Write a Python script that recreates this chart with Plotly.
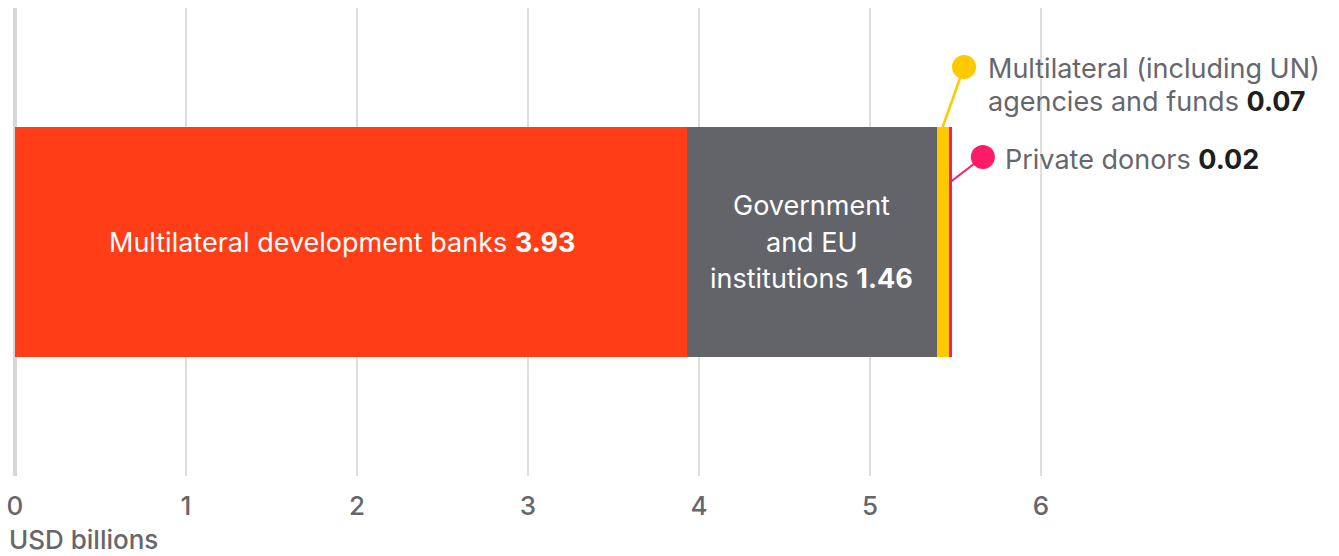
import plotly.graph_objects as go

# Funding by donor type, USD billions
categories = ["Multilateral development banks", "Government and EU institutions",
              "Multilateral (including UN) agencies and funds", "Private donors"]
values = [3.93, 1.46, 0.07, 0.02]
colors = ["#FF3D17", "#636469", "#FFC900", "#FF1C66"]
tick_vals = [0, 1, 2, 3, 4, 5, 6]
tick_text = ["0", "1", "2", "3", "4", "5", "6"]

FONT = "Inter"
SIZE = 27
GREY_TEXT = "#66666b"
DARK = "#1e1e1e"
BAR_W = 0.4915
PLOT_H = 468  # px height of the plotting area
PX = 1.0 / PLOT_H  # y-data units per pixel

fig = go.Figure()
for name, v, c in zip(categories, values, colors):
    fig.add_trace(go.Bar(
        x=[v], y=[0], orientation="h", name=name,
        marker=dict(color=c, line=dict(width=0)),
        width=BAR_W, hoverinfo="skip", showlegend=False,
    ))

# segment boundaries
starts = [sum(values[:i]) for i in range(len(values))]
mids = [s + v / 2 for s, v in zip(starts, values)]

annotations = []
# label inside the red segment
annotations.append(dict(
    x=mids[0], y=0, xref="x", yref="y", showarrow=False, xshift=-9,
    text=f"{categories[0]} <b>{values[0]:.2f}</b>",
    font=dict(family=FONT, size=SIZE, color="white"),
))
# three-line label inside the grey segment
grey_lines = ["Government", "and EU", f"institutions <b>{values[1]:.2f}</b>"]
for i, line in enumerate(grey_lines):
    annotations.append(dict(
        x=mids[1], y=0, xref="x", yref="y", showarrow=False,
        yshift=(1 - i) * 36.5,
        text=line, font=dict(family=FONT, size=SIZE, color="white"),
    ))

# callouts for the two thin segments: leader line from the bar to a dot, label beside it
# start_px: pixels below the bar top where the leader leaves the bar
# end_px: pixels below the bar top for the dot (negative = above the bar)
callouts = [
    dict(idx=2, dx=0.125, start_px=0, end_px=-60, lw=2.5, tshift=22,
         lines=["Multilateral (including UN)",
                f"agencies and funds <b style='color:{DARK}'>{values[2]:.2f}</b>"],
         line_y=[2, 35]),
    dict(idx=3, dx=0.19, start_px=55, end_px=30, lw=2, tshift=20,
         lines=[f"Private donors <b style='color:{DARK}'>{values[3]:.2f}</b>"],
         line_y=[3]),
]
top = BAR_W / 2
for co in callouts:
    i = co["idx"]
    x0 = mids[i]
    x1 = x0 + co["dx"]
    y0 = top - co["start_px"] * PX
    y1 = top - co["end_px"] * PX
    fig.add_trace(go.Scatter(
        x=[x0, x1], y=[y0, y1], mode="lines",
        line=dict(color=colors[i], width=co["lw"]),
        hoverinfo="skip", showlegend=False,
    ))
    fig.add_trace(go.Scatter(
        x=[x1], y=[y1], mode="markers",
        marker=dict(color=colors[i], size=24, line=dict(width=0)),
        hoverinfo="skip", showlegend=False,
    ))
    for text, dy in zip(co["lines"], co["line_y"]):
        annotations.append(dict(
            x=x1, y=y1, xref="x", yref="y", showarrow=False,
            xanchor="left", yanchor="middle", xshift=co["tshift"], yshift=-dy,
            align="left", text=text,
            font=dict(family=FONT, size=SIZE, color=GREY_TEXT),
        ))

annotations.append(dict(
    x=0, y=0, xref="paper", yref="paper", xanchor="left", yanchor="middle",
    xshift=2, yshift=-63, showarrow=False, text="USD billions",
    font=dict(family=FONT, size=26, color=GREY_TEXT, weight=500),
))

fig.update_layout(
    barmode="stack",
    width=1339, height=556,
    margin=dict(l=5, r=0, t=8, b=80),
    paper_bgcolor="white", plot_bgcolor="white",
    xaxis=dict(
        range=[-10 / 171, -10 / 171 + 1334 / 171],
        tickvals=tick_vals, ticktext=tick_text,
        showgrid=True, gridcolor="#dedede", gridwidth=2,
        zeroline=True, zerolinecolor="#d6d6d6", zerolinewidth=4,
        showline=False, ticks="", ticklabelstandoff=12,
        tickfont=dict(family=FONT, size=26, color=GREY_TEXT, weight=500),
        fixedrange=True,
    ),
    yaxis=dict(
        range=[-0.5, 0.5], visible=False, fixedrange=True,
    ),
    annotations=annotations,
)

fig.write_html("out.html")
